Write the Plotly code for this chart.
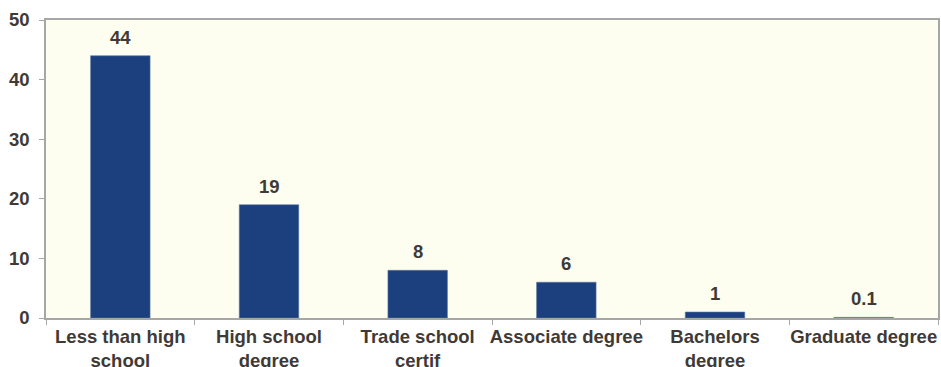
import plotly.graph_objects as go

categories = [
    "Less than high<br>school",
    "High school<br>degree",
    "Trade school<br>certif",
    "Associate degree",
    "Bachelors<br>degree",
    "Graduate degree",
]
values = [44, 19, 8, 6, 1, 0.1]
value_labels = ["44", "19", "8", "6", "1", "0.1"]

TEXT = "#3F3A36"
FONT = "Liberation Sans, Arial, sans-serif"
SIZE = 18.5

fig = go.Figure(
    go.Bar(
        x=categories,
        y=values,
        marker=dict(color="#1B407D", line=dict(color="#5A74A0", width=0.6)),
        width=0.4,
    )
)

# value labels sitting a little above each bar
for cat, val, lab in zip(categories, values, value_labels):
    fig.add_annotation(
        x=cat,
        y=val,
        text=lab,
        showarrow=False,
        yanchor="bottom",
        yshift=6,
        font=dict(family=FONT, size=SIZE, color=TEXT, weight="bold"),
    )

fig.update_layout(
    width=941,
    height=367,
    margin=dict(l=46, r=3, t=20, b=49),
    paper_bgcolor="white",
    plot_bgcolor="#FEFEF0",
    showlegend=False,
    font=dict(family=FONT, size=SIZE, color=TEXT, weight="bold"),
)

fig.update_xaxes(
    tickson="boundaries",
    tickangle=0,
    automargin=False,
    ticks="outside",
    ticklen=5,
    tickcolor="#A6A6A6",
    ticklabelstandoff=1,
    showline=True,
    linecolor="#A6A6A6",
    linewidth=1.5,
    mirror=True,
    showgrid=False,
    tickfont=dict(family=FONT, size=SIZE, color=TEXT, weight="bold"),
)
fig.update_yaxes(
    range=[0, 50],
    tickvals=[0, 10, 20, 30, 40, 50],
    automargin=False,
    ticks="outside",
    ticklen=5,
    tickcolor="#A6A6A6",
    ticklabelstandoff=6,
    showline=True,
    linecolor="#A6A6A6",
    linewidth=1.5,
    mirror=True,
    showgrid=False,
    zeroline=False,
    tickfont=dict(family=FONT, size=SIZE, color=TEXT, weight="bold"),
)

fig.write_html("out.html")
